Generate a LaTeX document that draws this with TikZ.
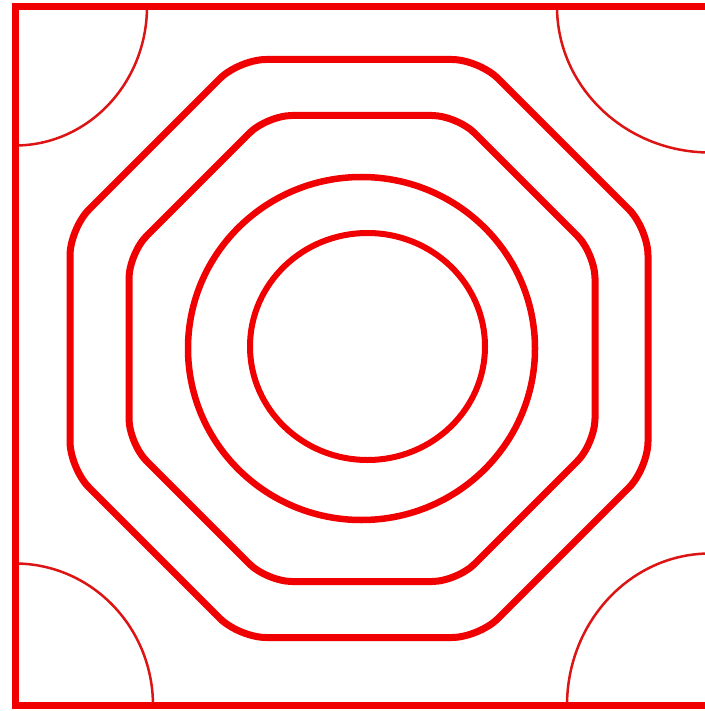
\documentclass[tikz,border=0pt]{standalone}
\usetikzlibrary{calc}
\definecolor{ringred}{RGB}{240,0,0}
\definecolor{arcred}{RGB}{220,20,20}
\begin{document}
\begin{tikzpicture}[x=1pt,y=-1pt,
  ring/.style={draw=ringred,line width=7pt,line join=round},
  thinarc/.style={draw=arcred,line width=2.5pt},
  framebox/.style={draw=ringred,line width=7pt}]
\useasboundingbox (0,0) rectangle (704,711);
\fill[white] (0,0) rectangle (704,711);
% corner arcs, clipped to frame
\begin{scope}
  \clip (15,6.5) rectangle (710,705.5);
  \draw[thinarc] (15,6.5) ellipse [x radius=132, y radius=139];
  \draw[thinarc] (710,6.5) ellipse [x radius=153, y radius=146];
  \draw[thinarc] (15,705.5) ellipse [x radius=138, y radius=142];
  \draw[thinarc] (710,705.5) ellipse [x radius=143, y radius=152];
\end{scope}
% frame
\draw[framebox] (15,6.5) rectangle (710,705.5);
% outer octagon
\draw[ring,rounded corners=27] (359,59.5) -- (479,59.5) -- (648,228.5) -- (648,468.5) -- (479,637.5) -- (239,637.5) -- (70,468.5) -- (70,228.5) -- (239,59.5) -- cycle;
% second octagon
\draw[ring,rounded corners=25] (362,115.5) -- (457,115.5) -- (595,253.5) -- (595,443.5) -- (457,581.5) -- (267,581.5) -- (129,443.5) -- (129,253.5) -- (267,115.5) -- cycle;
% third ring, nearly round
\draw[ring,line width=6.5pt] (361.5,348.5) ellipse [x radius=173.5, y radius=171.5];
% inner circle
\draw[ring,line width=6pt] (367.5,346.5) ellipse [x radius=117.5, y radius=113.5];
\end{tikzpicture}
\end{document}
